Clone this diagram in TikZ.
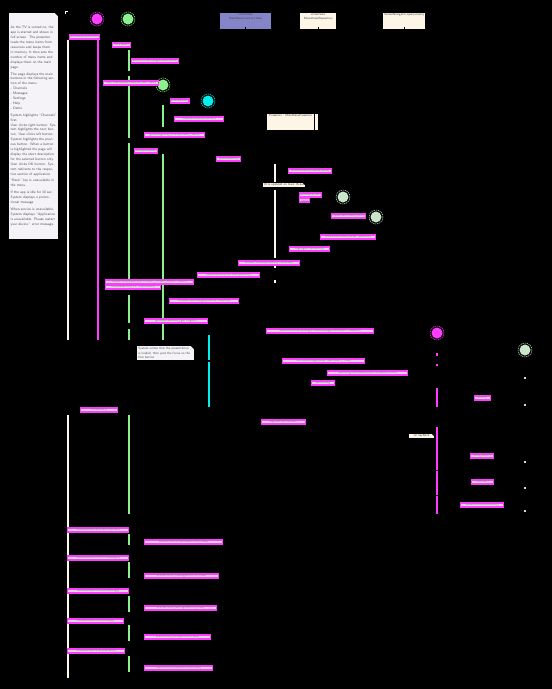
\documentclass[tikz,border=0pt]{standalone}
\usepackage{fontspec}
\usetikzlibrary{positioning}
\definecolor{hotpink}{HTML}{FF3CFF}
\definecolor{lifecream}{HTML}{FFF8E7}
\definecolor{mint}{HTML}{8CF08C}
\definecolor{aqua}{HTML}{00F0F0}
\definecolor{sage}{HTML}{C8E6C9}
\definecolor{lilac}{HTML}{8484C8}
\definecolor{parchment}{HTML}{FDF5E6}
\definecolor{memo}{HTML}{F5F3F7}

\begin{document}
\begin{tikzpicture}[
  x=1pt,y=-1pt,
  font=\sffamily,
  msg/.style={fill=white!72!gray,draw=hotpink,line width=1.4pt,text=black!50,
              inner sep=0.1pt,minimum height=4pt,minimum width=#1,anchor=west,
              font=\sffamily\fontsize{3.1}{3.4}\selectfont},
  lifeline/.style={line width=1.8pt},
  head/.style={circle,minimum size=11pt,inner sep=0pt},
  halo/.style={circle,minimum size=14pt,inner sep=0pt,line width=0.5pt,
               dash pattern=on 1.2pt off 0.8pt},
  ifbox/.style={inner sep=0pt,anchor=north west},
  iflbl/.style={font=\sffamily\fontsize{3}{3.8}\selectfont,text=black!75,
                align=center,anchor=north,inner sep=0.5pt},
  memobox/.style={fill=memo,anchor=north west,inner sep=1.5pt,align=left,
                  text=black!70,font=\sffamily\fontsize{3.5}{4.9}\selectfont},
  tag/.style={fill=parchment,anchor=west,inner sep=0.6pt,text=black!75,
              font=\sffamily\fontsize{3.1}{3.4}\selectfont},
]

% Canvas.
\fill[black] (0,0) rectangle (552,689);
\draw[white,line width=0.6pt] (65,14) -- (65,11) -- (68,11);

% Requirement note on the left.
\node[memobox,text width=46pt,minimum height=226pt] (spec) at (9,13)
  {As the TV is turned on, the app is started and shown in full screen.
   The presenter loads the menu items from resources and keeps them in
   memory. It then sets the number of menu items and displays them on the
   main page.\\[2pt]
   The page displays the main buttons in the following section of the menu:\\
   - Channels\\ - Messages\\ - Settings\\ - Help\\ - Demo\\[2pt]
   System highlights ``Channels'' first.\\
   User clicks right button: System highlights the next button.
   User clicks left button: System highlights the previous button.
   When a button is highlighted the page will display the short description
   for the selected button only.
   User clicks OK button: System redirects to the respective section of
   application.\\[2pt]
   ``Back'' key is unavailable in the menu.\\[2pt]
   If the app is idle for 30 sec. System displays a promotional message.\\[2pt]
   When service is unavailable, System displays ``Application is
   unavailable. Please restart your device.'' error message.};
\fill[black] (55,13) -- (58,13) -- (58,16) -- cycle;

% Participant heads.
\node[head,fill=hotpink] (activity) at (97,19) {};
\node[halo,draw=hotpink] (activityhalo) at (activity) {};
\node[head,fill=mint] (fragment) at (128,19) {};
\node[halo,draw=mint] (fragmenthalo) at (fragment) {};
\node[head,fill=mint] (presenter) at (163,85) {};
\node[halo,draw=mint] (presenterhalo) at (presenter) {};
\node[head,fill=aqua] (focus) at (208,101) {};
\node[halo,draw=aqua] (focushalo) at (focus) {};
\node[head,fill=sage] (adapter) at (343,197) {};
\node[halo,draw=sage] (adapterhalo) at (adapter) {};
\node[head,fill=sage] (holder) at (376,217) {};
\node[halo,draw=sage] (holderhalo) at (holder) {};
\node[head,fill=hotpink] (dialog) at (437,333) {};
\node[halo,draw=hotpink] (dialoghalo) at (dialog) {};
\node[head,fill=sage] (promo) at (525,350) {};
\node[halo,draw=sage] (promohalo) at (promo) {};

% Interfaces along the top.
\node[ifbox,fill=lilac,minimum width=51pt,minimum height=16pt] (viewif) at (220,13) {};
\node[iflbl] (viewiflbl) at (viewif.north) {«interface»\\MainMenuContract.View};
\node[ifbox,fill=parchment,minimum width=36pt,minimum height=16pt] (repoif) at (300,13) {};
\node[iflbl] (repoiflbl) at (repoif.north) {«interface»\\MenuItemsRepository};
\node[ifbox,fill=parchment,minimum width=42pt,minimum height=16pt] (navif) at (383,13) {};
\node[iflbl] (naviflbl) at (navif.north) {ScreenNavigator.open(screen)};
\draw[black,line width=0.6pt] (viewif.south) -- ++(0,-2);
\draw[black,line width=0.6pt] (repoif.south) -- ++(0,-2);
\draw[black,line width=0.6pt] (navif.south) -- ++(0,-2);

% Presenter instance box.
\node[ifbox,fill=parchment,minimum width=47pt,minimum height=16pt] (menupres) at (267,114) {};
\node[iflbl] (menupreslbl) at (menupres.north) {Presenter : MainMenuPresenter};
\fill[parchment] (315,114) rectangle (318,130);

% Lifelines, broken where calls cross them.
\foreach \a/\b in {40/340, 415/678}
  \draw[lifeline,lifecream] (68,\a) -- (68,\b);
\draw[lifeline,hotpink] (98,40) -- (98,340);
\foreach \a/\b in {50/71, 76/138, 143/280, 295/323, 329/340, 415/514,
                   534/545, 562/578, 596/612, 625/641, 656/672}
  \draw[lifeline,mint] (129,\a) -- (129,\b);
\foreach \a/\b in {105/127, 154/340}
  \draw[lifeline,mint] (163,\a) -- (163,\b);
\foreach \a/\b in {335/360, 362/407}
  \draw[lifeline,aqua] (209,\a) -- (209,\b);
\foreach \a/\b in {164/182, 190/258, 264/268, 280/283}
  \draw[lifeline,lifecream] (275,\a) -- (275,\b);
\foreach \a/\b in {353/356, 364/366, 388/407, 427/470, 471/495, 496/514}
  \draw[lifeline,hotpink] (437,\a) -- (437,\b);
\foreach \y in {377, 404, 461, 487, 510}
  \fill[sage] (524,\y) rectangle (526,\y+2);

% Startup messages.
\node[msg=27pt] (m1) at (69,37) {onCreate(savedState)};
\node[msg=18pt] (m2) at (112,45) {initViews()};
\node[msg=47pt] (m3) at (131,61) {setOnFocusChangeListener(this)};
\node[msg=55pt] (m4) at (103,83) {new MainMenuPresenter(this, repo)};
\node[msg=18pt] (m5) at (170,101) {attachView()};
\node[msg=49pt] (m6) at (174,119) {loadMenuItems(context)};
\node[msg=60pt] (m7) at (144,135) {getStringArray(R.array.menu\_items)};
\node[msg=23pt] (m8) at (134,151) {setMenuItems()};
\node[msg=24pt] (m9) at (216,159) {updateMenu()};
\node[msg=43pt] (m10) at (288,171) {onMenuItemsLoaded(items)};
\node[tag,minimum width=42pt] (uinote) at (263,185) {UI is updated on main thread};
\fill[black] (303,183) -- (306,183) -- (306,186) -- cycle;
\node[msg=21pt] (m11) at (299,195) {setAdapter(list)};
\node[msg=10pt] (m11b) at (299,200) {items};
\node[msg=34pt] (m12) at (331,216) {createItemViews(items)};
\node[msg=55pt] (m13) at (320,237) {bindViewHolder(holder, position)};
\node[msg=40pt] (m14) at (289,249) {highlightFirstItem(0)};
\node[msg=61pt] (m15) at (238,263) {onItemFocused(position, itemView)};
\node[msg=62pt] (m16) at (197,275) {updateDescriptionText(position)};
\node[msg=88pt] (m17) at (105,282) {dispatchKeyEvent(KEYCODE\_DPAD\_RIGHT, event)};
\node[msg=55pt] (m17b) at (105,287) {moveSelection(+1, menuItems)};
\node[msg=69pt] (m18) at (169,301) {onSelectionChanged(oldPos, newPos)};
\node[msg=63pt] (m19) at (144,321) {getSelectedItem().getTarget()};

% Focus and promotion dialog.
\node[msg=107pt] (m20) at (266,331) {showPromotionDialog(PromoMessage.DEFAULT, timeout)};
\node[memobox,text width=54pt,inner sep=1.2pt,font=\sffamily\fontsize{3.2}{4.6}\selectfont]
  (focusnote) at (137,346)
  {System writes that the presentation is loaded, then puts the focus on the first button};
\fill[black] (191,346) -- (194,346) -- (194,349) -- cycle;
\node[msg=82pt] (m21) at (282,361) {onFocusChange(view, hasFocus = true)};
\node[msg=80pt] (m22) at (327,373) {setBackgroundResource(R.drawable.focus)};
\node[msg=23pt] (m23) at (311,383) {setFocus()};
\node[msg=16pt] (m24) at (474,398) {show()};
\node[msg=37pt] (m25) at (80,410) {onResume()};
\node[msg=44pt] (m26) at (261,422) {registerKeyHandler()};
\node[tag,minimum width=25pt] (backnote) at (409,436) {on keyBack};
\fill[black] (432,434) -- (435,434) -- (435,437) -- cycle;
\node[msg=23pt] (m27) at (470,456) {onKeyBack()};
\node[msg=22pt] (m28) at (471,482) {dismiss()};
\node[msg=43pt] (m29) at (460,505) {showExitConfirmation()};

% Navigation from each menu button.
\foreach \n/\yl/\yr/\wl/\wr in {Channels/530/542/61/78, Messages/558/576/61/74,
                                 Settings/591/608/61/72, Help/621/637/56/66,
                                 Demo/651/668/57/68} {
  \node[msg=\wl pt] (click\n) at (67,\yl) {onMenuItemClick(btn\n)};
  \node[msg=\wr pt] (open\n) at (144,\yr) {startActivity(\n Activity.class)};
}

\end{tikzpicture}
\end{document}
